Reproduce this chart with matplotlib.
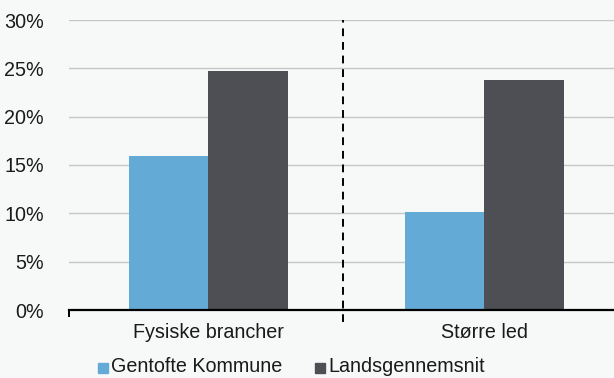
import matplotlib.pyplot as plt
from matplotlib.patches import Rectangle

plt.rcParams["font.family"] = ["Liberation Sans", "DejaVu Sans"]

categories = ["Fysiske brancher", "Større led"]
gentofte = [15.9, 10.1]
lands = [24.7, 23.8]
series_names = ["Gentofte Kommune", "Landsgennemsnit"]
yticks = [0, 5, 10, 15, 20, 25, 30]

blue = "#63aad6"
dark = "#4e4f54"
bg = "#f7f9f9"
fs = 14.2

W, H = 614, 378
fig = plt.figure(figsize=(W / 100, H / 100), dpi=100, facecolor=bg)
ax = fig.add_axes([69 / W, 1 - 310 / H, 545 / W, 290 / H])
ax.set_facecolor(bg)

w = 0.288
x = list(range(len(categories)))
ax.bar([i - w / 2 for i in x], gentofte, width=w, color=blue, zorder=3)
ax.bar([i + w / 2 for i in x], lands, width=w, color=dark, zorder=3)

ax.set_ylim(0, 30)
ax.set_xlim(-0.504, 1.471)
ax.set_yticks(yticks)
ax.set_yticklabels([f"{t}%" for t in yticks], fontsize=fs)
ax.set_xticks(x)
ax.set_xticklabels(categories, fontsize=fs)
ax.tick_params(axis="x", length=0, pad=9, colors="#1a1a1a")
ax.tick_params(axis="y", length=0, pad=18, colors="#1a1a1a")
ax.yaxis.grid(True, color="#c6c6c6", linewidth=1, zorder=0)
for s in ["top", "right", "left"]:
    ax.spines[s].set_visible(False)
ax.spines["bottom"].set_linewidth(1.6)
ax.spines["bottom"].set_zorder(4)

# divider between the two groups
ax.plot([0.489, 0.489], [-1.2, 30], color="black", linestyle=(0, (4, 3)),
        linewidth=1.4, clip_on=False, zorder=5)
ax.plot([-0.504, -0.504], [-0.6, 0], color="black", linewidth=1.4,
        clip_on=False, zorder=5)

# legend drawn by hand
for name, col, x0 in zip(series_names, [blue, dark], [98, 315]):
    fig.patches.append(Rectangle((x0 / W, 1 - 373 / H), 10 / W, 10 / H,
                                 transform=fig.transFigure, color=col))
    fig.text((x0 + 13) / W, 1 - 367 / H, name, fontsize=fs, va="center",
             ha="left", color="#1a1a1a")

fig.savefig("out.png", dpi=100, facecolor=bg)
